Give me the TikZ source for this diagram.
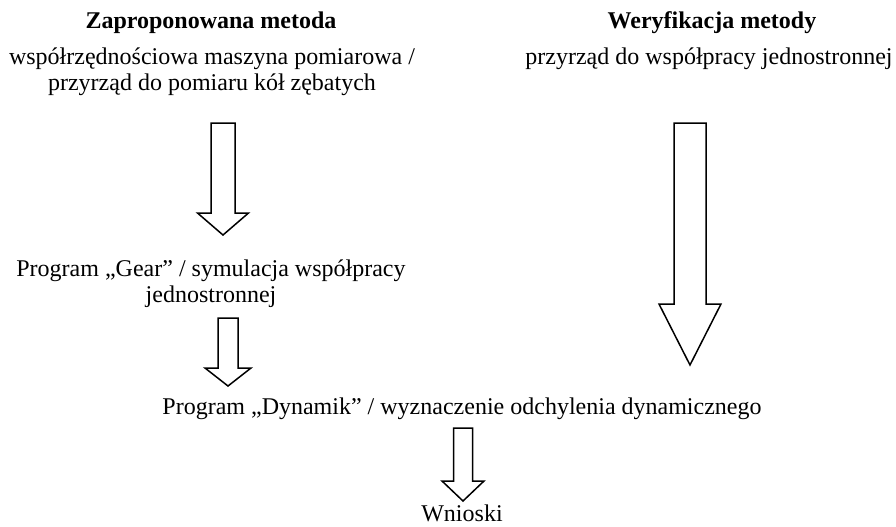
\documentclass[tikz,border=0pt]{standalone}
\usepackage{fontspec}
\setmainfont{Liberation Serif}
\usepackage{tikz}
\usetikzlibrary{calc}

% hollow block arrow: #1 top, #2 tip, #3 shaft half width, #4 head half width, #5 head length
\newcommand{\blockarrow}[5]{%
  \draw[blockarr] ($(#1)+(-#3,0)$) -- ($(#2)+(-#3,-#5)$) -- ($(#2)+(-#4,-#5)$) -- (#2)
    -- ($(#2)+(#4,-#5)$) -- ($(#2)+(#3,-#5)$) -- ($(#1)+(#3,0)$) -- cycle;}

\begin{document}
\begin{tikzpicture}[x=0.5pt, y=-0.5pt,
    txt/.style={inner sep=0pt, anchor=base, align=center, font=\fontsize{12pt}{13pt}\selectfont},
    title/.style={txt, font=\fontsize{12pt}{13pt}\selectfont\bfseries},
    blockarr/.style={draw, line width=0.75pt, fill=white, line join=miter}]

        \useasboundingbox (0,0) rectangle (896,526);

        % --- HEADINGS ---
        \node[title] (zap) at (211,28) {Zaproponowana metoda};
        \node[title] (wer) at (712,28) {Weryfikacja metody};

        % --- LEFT COLUMN ---
        % base of a two-line node = baseline of its last line
        \node[txt] (cmm) at (212,90) {współrzędnościowa maszyna pomiarowa /\\przyrząd do pomiaru kół zębatych};
        \node[txt] (gear) at (211,302) {Program „Gear” / symulacja współpracy\\jednostronnej};

        % --- RIGHT COLUMN ---
        \node[txt] (prz) at (709,64) {przyrząd do współpracy jednostronnej};

        % --- BOTTOM ---
        \node[txt] (dyn) at (462,414) {Program „Dynamik” / wyznaczenie odchylenia dynamicznego};
        \node[txt] (wni) at (462,521) {Wnioski};

        % ARROWS
        \coordinate (a1top) at (223,123); % below cmm
        \coordinate (a1tip) at (223,235); % above gear
        \coordinate (a2top) at (228,318); % below gear
        \coordinate (a2tip) at (228,386); % above dyn
        \coordinate (aRtop) at (690,123); % below prz
        \coordinate (aRtip) at (690,365); % above dyn
        \coordinate (a4top) at (463,428); % below dyn
        \coordinate (a4tip) at (463,501); % above wni

        \blockarrow{a1top}{a1tip}{12}{25.5}{22}
        \blockarrow{a2top}{a2tip}{10}{23}{18}
        \blockarrow{aRtop}{aRtip}{16}{31}{61}
        \blockarrow{a4top}{a4tip}{9.5}{21}{20}

\end{tikzpicture}
\end{document}
